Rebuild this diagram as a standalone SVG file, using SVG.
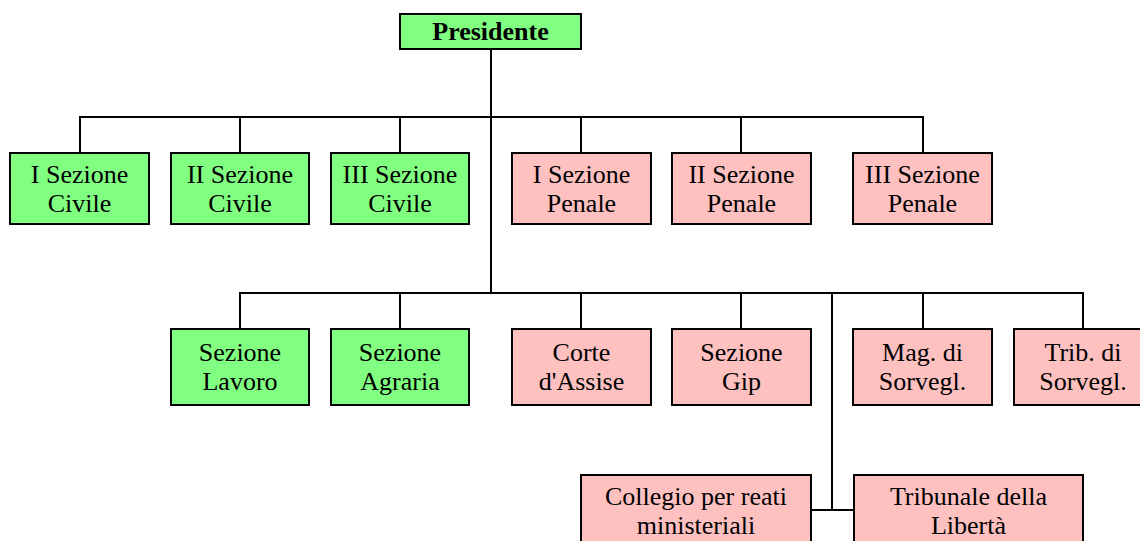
<svg xmlns="http://www.w3.org/2000/svg" width="1140" height="541" viewBox="0 0 1140 541">
<style>
.g{fill:#80ff80;stroke:#000;stroke-width:2}
.p{fill:#ffc0c0;stroke:#000;stroke-width:2}
.t{font-family:"Liberation Serif","Times New Roman",serif;font-size:26px;fill:#000;text-anchor:middle}
.b{font-weight:bold}
.c{fill:none;stroke:#000;stroke-width:2}
</style>
<rect width="1140" height="541" fill="#fff"/>
<g id="connectors">
<path class="c" d="M491 49V293M80 153V117H923V153M240 117V153M400 117V153M581 117V153M741 117V153"/>
<path class="c" d="M240 329V293H1083V329M400 293V329M581 293V329M741 293V329M923 293V329M832 293V510M811 510H854"/>
</g>
<g id="presidente"><rect class="g" x="400" y="14" width="181" height="35"/><text class="t b" x="490.5" y="39.5">Presidente</text></g>
<g id="civ1"><rect class="g" x="10" y="153" width="139" height="71"/><text class="t" x="79.5" y="182.5">I Sezione</text><text class="t" x="79.5" y="212">Civile</text></g>
<g id="civ2"><rect class="g" x="171" y="153" width="138" height="71"/><text class="t" x="240" y="182.5">II Sezione</text><text class="t" x="240" y="212">Civile</text></g>
<g id="civ3"><rect class="g" x="331" y="153" width="138" height="71"/><text class="t" x="400" y="182.5">III Sezione</text><text class="t" x="400" y="212">Civile</text></g>
<g id="pen1"><rect class="p" x="512" y="153" width="139" height="71"/><text class="t" x="581.5" y="182.5">I Sezione</text><text class="t" x="581.5" y="212">Penale</text></g>
<g id="pen2"><rect class="p" x="672" y="153" width="139" height="71"/><text class="t" x="741.5" y="182.5">II Sezione</text><text class="t" x="741.5" y="212">Penale</text></g>
<g id="pen3"><rect class="p" x="853" y="153" width="139" height="71"/><text class="t" x="922.5" y="182.5">III Sezione</text><text class="t" x="922.5" y="212">Penale</text></g>
<g id="lavoro"><rect class="g" x="171" y="329" width="138" height="76"/><text class="t" x="240" y="361">Sezione</text><text class="t" x="240" y="390">Lavoro</text></g>
<g id="agraria"><rect class="g" x="331" y="329" width="138" height="76"/><text class="t" x="400" y="361">Sezione</text><text class="t" x="400" y="390">Agraria</text></g>
<g id="assise"><rect class="p" x="512" y="329" width="139" height="76"/><text class="t" x="581.5" y="361">Corte</text><text class="t" x="581.5" y="390">d'Assise</text></g>
<g id="gip"><rect class="p" x="672" y="329" width="139" height="76"/><text class="t" x="741.5" y="361">Sezione</text><text class="t" x="741.5" y="390">Gip</text></g>
<g id="mag"><rect class="p" x="853" y="329" width="139" height="76"/><text class="t" x="922.5" y="361">Mag. di</text><text class="t" x="922.5" y="390">Sorvegl.</text></g>
<g id="trib"><rect class="p" x="1014" y="329" width="139" height="76"/><text class="t" x="1083" y="361">Trib. di</text><text class="t" x="1083" y="390">Sorvegl.</text></g>
<g id="collegio"><rect class="p" x="581" y="475" width="230" height="72"/><text class="t" x="696" y="505">Collegio per reati</text><text class="t" x="696" y="534">ministeriali</text></g>
<g id="liberta"><rect class="p" x="854" y="475" width="229" height="72"/><text class="t" x="968.5" y="505">Tribunale della</text><text class="t" x="968.5" y="534">Libertà</text></g>
</svg>
